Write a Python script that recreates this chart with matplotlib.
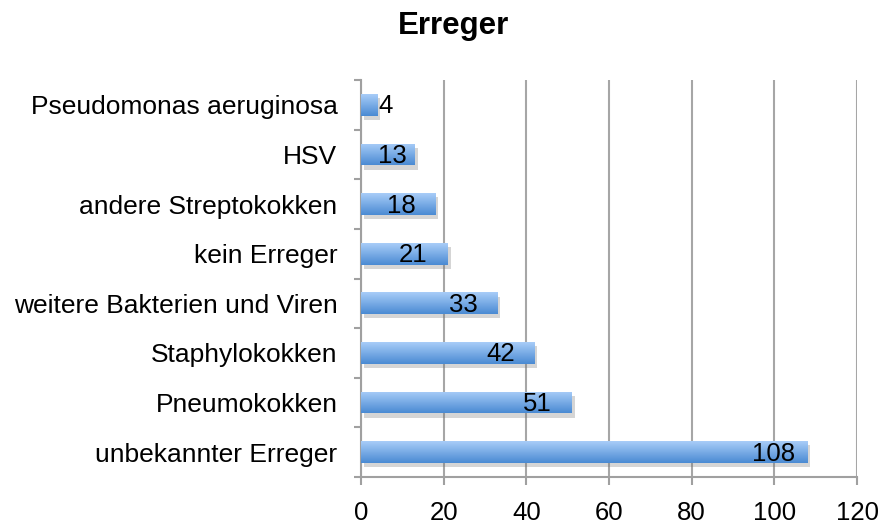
import matplotlib
matplotlib.use("Agg")
import matplotlib.pyplot as plt
import numpy as np
from matplotlib import patheffects as pe
from matplotlib.colors import LinearSegmentedColormap

categories = ["unbekannter Erreger", "Pneumokokken", "Staphylokokken",
              "weitere Bakterien und Viren", "kein Erreger",
              "andere Streptokokken", "HSV", "Pseudomonas aeruginosa"]
values = [108, 51, 42, 33, 21, 18, 13, 4]
xticks = [0, 20, 40, 60, 80, 100, 120]
title = "Erreger"

plt.rcParams['font.family'] = ['Liberation Sans', 'DejaVu Sans']

fig = plt.figure(figsize=(8.82, 5.24), dpi=100)
ax = fig.add_axes([0.4093, 0.0897, 0.9717 - 0.4093, 0.8473 - 0.0897])

n = len(categories)
ypos = np.arange(n)
h = 0.44
cmap = LinearSegmentedColormap.from_list("g", ["#4a8ad3", "#a8cdf8"])
grad = np.linspace(0, 1, 64).reshape(-1, 1)

bars = ax.barh(ypos, values, height=h, color="#7aaee8", zorder=3,
               path_effects=[pe.SimplePatchShadow(offset=(2, -3), shadow_rgbFace="#777777", alpha=0.3), pe.Normal()])
for b, v, y in zip(bars, values, ypos):
    im = ax.imshow(grad, cmap=cmap, aspect="auto", origin="lower",
                   extent=[0, v, y - h / 2, y + h / 2], zorder=4, interpolation="bilinear")
    im.set_clip_path(b)
    if v >= 10:
        cx = max(v - 8.3, 7.7)
        ax.text(cx, y - 0.03, str(v), ha="center", va="center", fontsize=18.5, zorder=5, color="black")
    else:
        ax.text(v + 0.2, y - 0.03, str(v), ha="left", va="center", fontsize=18.5, zorder=5, color="black")

ax.set_xlim(0, 120)
ax.set_ylim(-0.5, n - 0.5)
ax.set_xticks(xticks)
ax.set_xticklabels([str(t) for t in xticks], fontsize=18.5)
ax.set_yticks(ypos)
ax.set_yticklabels(categories, fontsize=19)
ax.set_yticks(np.arange(-0.5, n, 1), minor=True)
ax.tick_params(axis="y", which="major", length=0, pad=17)
ax.tick_params(axis="y", which="minor", length=5, width=1.5, color="#a0a0a0")
ax.tick_params(axis="x", which="major", length=6, width=1.5, color="#a0a0a0", pad=11)

ax.grid(axis="x", color="#a6a6a6", linewidth=1.5, zorder=0)
ax.set_axisbelow(True)
for s in ["top", "right"]:
    ax.spines[s].set_visible(False)
for s in ["left", "bottom"]:
    ax.spines[s].set_color("#a0a0a0")
    ax.spines[s].set_linewidth(1.5)

fig.text(0.514, 0.951, title, ha="center", va="center", fontsize=22.5, fontweight="bold")

fig.savefig("out.png", dpi=100)
